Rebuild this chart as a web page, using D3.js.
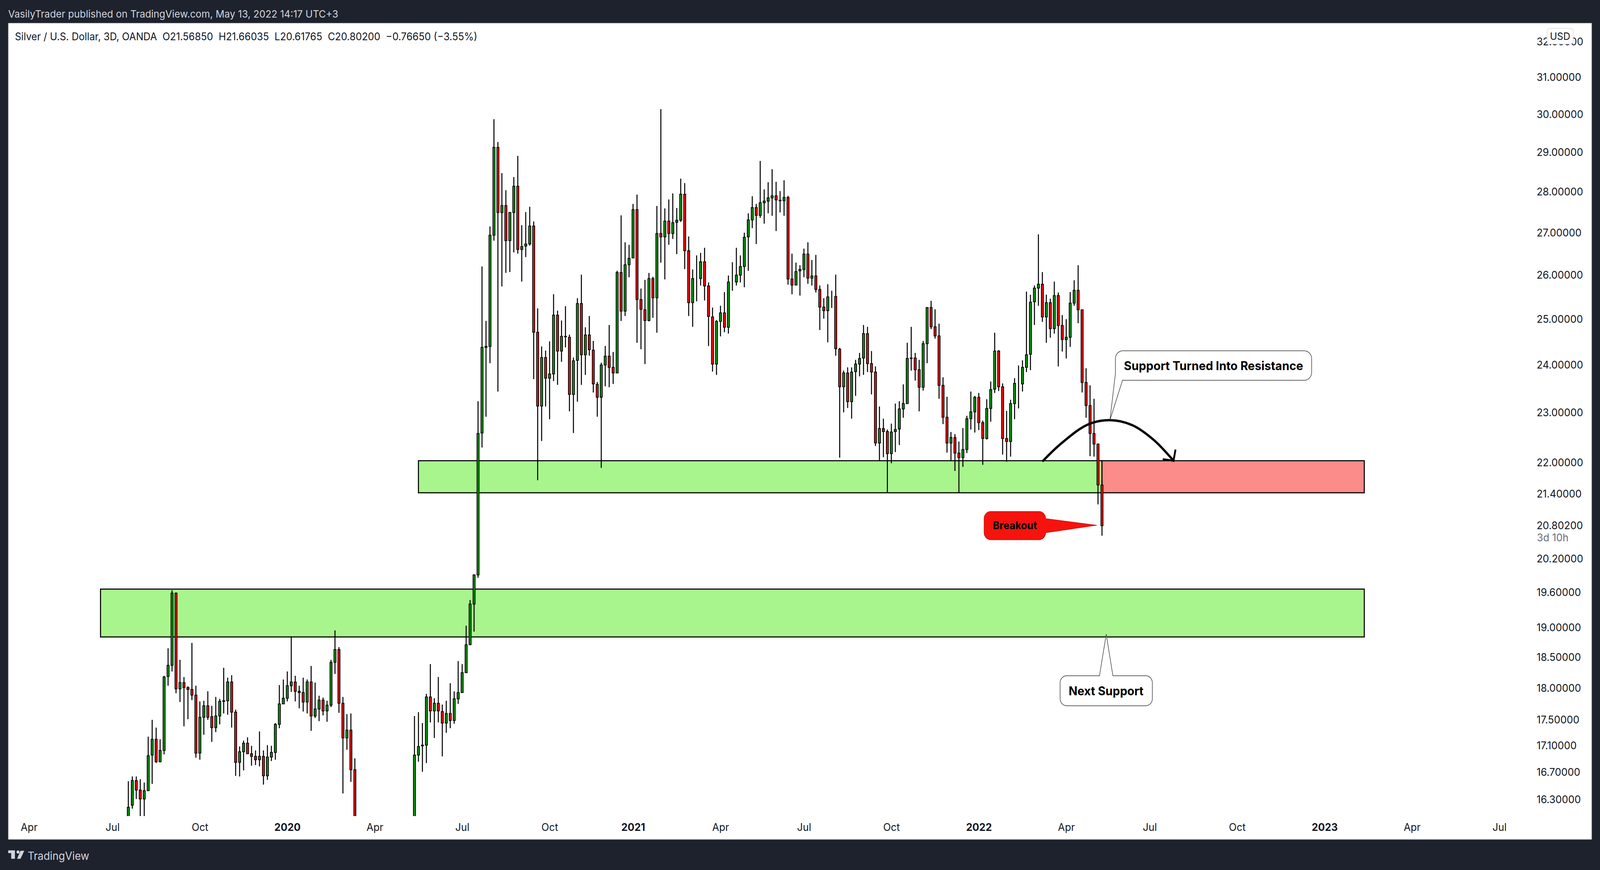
<!DOCTYPE html>
<html>
<head>
<meta charset="utf-8">
<script src="https://cdn.jsdelivr.net/npm/d3@7"></script>
<style>
  html, body { margin: 0; padding: 0; background: #1e222d; overflow: hidden; }
  text { font-family: "Inter", "Noto Sans", sans-serif; }
</style>
</head>
<body>
<div id="my_dataviz"></div>
<script>
// 3D candles, bar 0 is the first one on screen. null = bar is below the visible range
var barOpen = [
  15.90,16.22,16.58,16.44,16.31,16.43,16.96,17.20,16.86,17.03,
  18.19,18.37,19.59,17.99,18.09,18.01,17.98,17.89,16.99,17.54,
  17.72,17.55,17.38,17.56,17.79,17.80,18.10,17.62,16.85,17.01,
  17.14,16.98,16.94,16.89,16.94,16.65,16.93,17.00,17.43,17.75,
  17.84,18.04,18.10,17.95,17.93,17.78,18.10,17.56,17.67,17.81,
  17.64,17.73,18.42,18.63,17.76,17.22,17.34,16.74,null,null,
  null,null,null,null,null,null,null,null,null,null,
  null,null,15.90,16.96,17.10,17.11,17.86,17.64,17.76,17.63,
  17.45,17.60,17.49,17.83,17.93,18.25,18.71,19.40,19.91,22.59,
  24.38,24.40,26.94,29.13,27.49,27.66,26.81,27.49,28.14,26.60,
  26.68,26.73,27.16,24.71,23.14,24.16,23.72,23.81,25.09,24.30,
  24.62,24.60,23.38,24.10,25.35,24.22,24.65,24.32,23.59,23.32,
  24.00,24.19,23.95,23.83,26.06,25.18,26.24,26.40,27.56,25.44,
  25.21,24.97,25.92,25.48,26.98,26.90,27.28,26.98,27.25,27.30,
  27.94,26.57,25.37,25.92,25.92,26.31,25.75,25.05,24.02,24.95,
  25.14,24.82,25.84,25.84,26.00,26.20,26.90,27.31,27.61,27.42,
  27.73,27.77,27.85,27.90,27.79,27.78,27.86,25.91,25.77,26.10,
  26.13,26.49,25.93,25.98,25.67,25.27,25.19,25.51,25.51,24.34,
  23.54,23.83,23.23,23.86,24.02,24.15,24.68,24.03,23.85,22.39,
  22.68,22.62,22.18,22.62,22.67,23.08,23.19,24.14,24.15,23.90,
  23.53,24.46,25.26,24.83,24.63,23.57,22.91,22.39,22.50,22.19,
  22.10,22.26,22.88,23.02,23.32,22.80,22.48,23.09,23.49,24.30,
  23.54,22.48,22.42,23.19,23.60,23.60,23.95,24.23,25.39,25.70,
  25.79,25.05,25.37,24.79,25.53,24.86,24.55,24.60,25.36,25.65,
  25.21,23.63,23.15,22.58,22.37,21.5685
];
var barHigh = [
  16.57,16.64,16.64,16.60,16.55,17.24,17.50,17.38,17.20,18.20,
  18.65,19.64,19.60,18.46,18.18,18.03,18.74,18.04,17.79,17.80,
  17.95,17.72,17.86,17.83,18.33,18.17,18.21,17.66,17.09,17.18,
  17.23,17.10,17.03,17.32,17.03,17.11,17.10,17.45,18.05,18.14,
  18.27,18.85,18.20,18.04,18.17,18.14,18.36,18.09,17.88,17.85,
  17.80,18.46,18.95,18.67,17.86,17.59,17.60,16.91,null,null,
  null,null,null,null,null,null,null,null,null,null,
  null,null,17.56,17.62,17.45,17.91,18.39,17.84,18.18,17.74,
  17.80,18.08,17.95,18.44,18.39,19.03,19.47,19.92,23.24,26.20,
  24.96,27.15,29.87,29.27,28.47,28.04,27.50,28.37,28.91,27.18,
  27.50,27.63,27.27,25.24,24.40,24.31,24.51,25.56,25.19,24.97,
  25.29,24.66,24.16,25.47,26.01,24.82,25.07,24.52,23.64,24.05,
  24.41,24.87,24.28,26.10,27.42,26.77,26.71,27.70,27.93,25.69,
  25.89,26.05,25.96,27.65,30.14,27.59,27.81,27.96,27.60,28.33,
  28.22,26.91,26.13,26.46,26.52,26.64,25.83,25.26,24.98,25.30,
  25.61,25.99,26.30,26.64,26.46,27.00,27.47,27.89,27.70,28.78,
  28.06,28.24,28.57,28.25,28.02,28.29,27.90,26.50,26.29,26.23,
  26.62,26.77,26.35,26.47,25.76,25.47,25.79,25.64,26.01,24.37,
  23.88,23.95,23.95,24.11,24.26,24.87,24.83,24.30,23.97,23.13,
  22.88,22.66,22.78,23.19,23.24,23.59,24.48,24.83,24.26,24.11,
  24.52,25.27,25.41,25.22,24.90,23.74,23.33,22.61,22.57,22.42,
  22.69,22.94,23.44,23.35,23.41,22.84,23.28,23.65,24.70,24.32,
  23.61,23.04,23.27,23.72,23.99,24.10,25.62,25.55,25.76,26.96,
  26.07,25.55,25.46,25.85,25.60,25.09,25.00,25.61,25.88,26.23,
  25.21,23.93,23.57,23.29,22.38,21.66035
];
var barLow = [
  15.85,16.17,16.31,16.00,16.00,16.43,16.53,16.84,16.85,16.97,
  18.04,18.27,17.92,17.78,17.40,17.51,17.81,16.92,16.89,17.27,
  17.50,17.16,17.31,17.43,17.60,17.58,17.38,16.65,16.64,16.73,
  16.98,16.80,16.81,16.79,16.52,16.59,16.87,16.89,17.37,17.75,
  17.79,17.94,17.79,17.68,17.63,17.60,17.33,17.53,17.48,17.57,
  17.47,17.70,18.23,17.61,16.39,17.04,16.56,15.80,null,null,
  null,null,null,null,null,null,null,null,null,null,
  null,null,15.80,16.86,16.71,16.84,17.46,17.22,17.46,16.94,
  17.30,17.37,17.44,17.75,17.93,18.25,18.71,18.93,19.86,22.30,
  22.92,24.04,26.81,23.44,25.74,26.05,26.07,26.53,26.50,25.85,
  26.42,26.69,23.70,21.66,22.43,23.13,22.87,23.66,23.58,24.07,
  24.38,23.03,22.59,23.23,23.58,23.79,24.20,23.42,22.92,21.90,
  23.55,23.53,23.60,23.83,24.96,25.07,25.95,26.40,24.48,24.34,
  24.02,24.95,25.03,24.70,26.29,25.90,26.71,26.85,26.49,27.26,
  26.14,25.07,24.83,25.40,25.76,25.42,24.41,23.86,23.79,24.62,
  24.71,24.68,25.64,25.76,25.83,25.72,26.10,27.11,26.73,27.36,
  27.22,27.47,27.41,27.04,27.49,27.41,25.78,25.56,25.77,25.53,
  25.95,25.80,25.76,25.60,24.76,25.01,24.49,25.25,24.20,22.10,
  23.01,23.10,22.88,23.35,23.76,23.79,23.85,23.38,22.33,22.04,
  22.11,21.42,21.99,22.21,22.35,22.90,23.19,23.88,23.67,23.03,
  23.46,24.04,24.78,24.57,23.29,22.77,22.20,22.05,21.84,21.42,
  21.92,22.19,22.66,22.60,22.65,21.96,22.46,22.82,23.41,23.45,
  22.16,22.02,22.12,22.87,23.09,23.44,23.85,23.89,24.87,25.30,
  24.94,24.48,24.59,24.68,23.97,24.29,24.14,24.39,25.30,24.91,
  23.42,22.90,22.13,22.12,21.20,20.61765
];
var barClose = [
  16.19,16.58,16.44,16.31,16.43,16.95,17.20,16.86,17.03,18.18,
  18.37,19.59,17.99,18.09,18.01,17.98,17.89,16.99,17.54,17.72,
  17.54,17.38,17.56,17.79,17.80,18.10,17.62,16.85,17.01,17.14,
  16.98,16.94,16.89,16.94,16.65,16.93,17.00,17.43,17.75,17.84,
  18.04,18.10,17.95,17.93,17.78,18.10,17.56,17.67,17.81,17.64,
  17.73,18.42,18.63,17.76,17.22,17.34,16.74,15.90,null,null,
  null,null,null,null,null,null,null,null,null,null,
  null,null,16.96,17.09,17.11,17.86,17.64,17.76,17.64,17.45,
  17.60,17.49,17.83,17.93,18.25,18.71,19.40,19.91,22.58,24.38,
  24.40,26.94,29.13,27.49,27.66,26.81,27.49,28.14,26.60,26.67,
  26.73,27.16,24.71,23.14,24.16,23.72,23.81,25.09,24.30,24.62,
  24.61,23.38,24.09,25.35,24.22,24.65,24.33,23.60,23.32,24.00,
  24.19,23.95,23.83,26.06,25.18,26.24,26.39,27.56,25.44,25.22,
  24.97,25.92,25.48,26.98,26.90,27.28,26.98,27.24,27.30,27.94,
  26.57,25.37,25.92,25.92,26.31,25.75,25.06,24.02,24.95,25.14,
  24.82,25.84,25.84,26.00,26.20,26.89,27.31,27.61,27.42,27.73,
  27.77,27.85,27.90,27.80,27.78,27.86,25.91,25.77,26.08,26.13,
  26.49,25.93,25.98,25.67,25.27,25.19,25.50,25.51,24.35,23.54,
  23.83,23.23,23.85,24.02,24.14,24.68,24.03,23.85,22.39,22.68,
  22.62,22.18,22.61,22.66,23.08,23.19,24.14,24.15,23.90,23.53,
  24.46,25.26,24.83,24.63,23.57,22.91,22.39,22.50,22.19,22.10,
  22.26,22.88,23.02,23.32,22.80,22.48,23.09,23.48,24.30,23.54,
  22.48,22.42,23.19,23.61,23.60,23.95,24.22,25.38,25.70,25.79,
  25.05,25.37,24.79,25.53,24.86,24.55,24.60,25.36,25.65,25.21,
  23.63,23.15,22.58,22.37,21.57,20.80200
];

var priceTicks = [32, 31, 30, 29, 28, 27, 26, 25, 24, 23, 22, 21.4, 20.802, 20.2, 19.6, 19, 18.5, 18, 17.5, 17.1, 16.7, 16.3];
var timeTickBars = [-25, -4, 18, 40, 62, 84, 106, 127, 149, 170, 192, 214, 236, 257, 279, 301, 323, 345];
var timeTickLabels = ["Apr", "Jul", "Oct", "2020", "Apr", "Jul", "Oct", "2021", "Apr", "Jul", "Oct", "2022", "Apr", "Jul", "Oct", "2023", "Apr", "Jul"];

// zones: [first bar, last bar, upper price, lower price]
var upperZone = [73, 245, 22.04, 21.42];
var flippedZone = [245, 311, 22.04, 21.42];
var lowerZone = [-7, 311, 19.66, 18.84];

// hand drawn arc + arrow head, [bar, price]
var arcBars = [230.2, 234.8, 241.4, 247.0, 252.6, 257.9, 263];
var arcPrices = [22.04, 22.385, 22.76, 22.85, 22.75, 22.46, 22.04];
var arrowHead = [[263.5, 22.26], [263, 22.04], [260.3, 22.07]];

var width = 4289, height = 2226;
var panel = {left: 22, top: 59, right: 4267, bottom: 2148};
var paneBottom = 2088, paneRight = 4060;

// the window can be narrower than the chart, so stretch the drawing to fill it
var svg = d3.select("#my_dataviz")
  .append("svg")
  .attr("viewBox", "0 0 " + width + " " + height)
  .attr("preserveAspectRatio", "none")
  .style("width", "100vw")
  .style("height", "100vh")
  .style("display", "block");

svg.append("rect").attr("width", width).attr("height", height).attr("fill", "#1e222d");
svg.append("rect")
  .attr("x", panel.left).attr("y", panel.top)
  .attr("width", panel.right - panel.left).attr("height", panel.bottom - panel.top)
  .attr("fill", "#fff").attr("stroke", "#787b86").attr("stroke-width", 1);

// bar index -> pixel, price axis is logarithmic
var x = d3.scaleLinear().domain([0, 245]).range([344, 2954]);
var y = d3.scaleLog().domain([32, 16.3]).range([107, 2046]);

svg.append("clipPath").attr("id", "pane")
  .append("rect")
  .attr("x", panel.left).attr("y", panel.top)
  .attr("width", paneRight - panel.left).attr("height", paneBottom - panel.top);

var pane = svg.append("g").attr("clip-path", "url(#pane)");

// zones
function drawZone(z, fill) {
  pane.append("rect")
    .attr("x", x(z[0])).attr("y", y(z[2]))
    .attr("width", x(z[1]) - x(z[0])).attr("height", y(z[3]) - y(z[2]))
    .attr("fill", fill).attr("stroke", "#000").attr("stroke-width", 2.8);
}
drawZone(upperZone, "#a9f58d");
drawZone(flippedZone, "#fb8c89");
drawZone(lowerZone, "#a9f58d");

// candles
var bars = barOpen.map(function(o, i) {
  return {i: i, open: o, high: barHigh[i], low: barLow[i], close: barClose[i]};
}).filter(function(d) { return d.open !== null; });

pane.selectAll("line.wick")
  .data(bars)
  .enter()
  .append("line")
  .attr("class", "wick")
  .attr("x1", function(d) { return x(d.i); })
  .attr("x2", function(d) { return x(d.i); })
  .attr("y1", function(d) { return y(d.high); })
  .attr("y2", function(d) { return y(d.low); })
  .attr("stroke", "#000")
  .attr("stroke-width", 2.7);

var bodyWidth = 5.6;
pane.selectAll("rect.body")
  .data(bars)
  .enter()
  .append("rect")
  .attr("class", "body")
  .attr("x", function(d) { return x(d.i) - bodyWidth / 2; })
  .attr("y", function(d) { return y(Math.max(d.open, d.close)); })
  .attr("width", bodyWidth)
  .attr("height", function(d) { return Math.abs(y(d.open) - y(d.close)); })
  .attr("fill", function(d) { return d.close >= d.open ? "#099a10" : "#f6120c"; })
  .attr("stroke", "#000")
  .attr("stroke-width", 2);

// arc
var arcLine = d3.line().curve(d3.curveCatmullRom)
  .x(function(d) { return x(d[0]); })
  .y(function(d) { return y(d[1]); });
pane.append("path")
  .attr("d", arcLine(arcBars.map(function(b, i) { return [b, arcPrices[i]]; })))
  .attr("fill", "none").attr("stroke", "#000").attr("stroke-width", 6).attr("stroke-linecap", "round");
pane.append("path")
  .attr("d", d3.line().x(function(d) { return x(d[0]); }).y(function(d) { return y(d[1]); })(arrowHead))
  .attr("fill", "none").attr("stroke", "#000").attr("stroke-width", 5);

// callouts
function callout(x0, y0, x1, y1, r, side, tail, tip, fill, stroke) {
  var p = d3.path();
  var tx = x(tip[0]), ty = y(tip[1]);
  p.moveTo(x0 + r, y0);
  if (side == "top") {
    p.lineTo(tail[0], y0); p.lineTo(tx, ty); p.lineTo(tail[1], y0);
  }
  p.arcTo(x1, y0, x1, y0 + r, r);
  if (side == "right") {
    p.lineTo(x1, tail[0]); p.lineTo(tx, ty); p.lineTo(x1, tail[1]);
  }
  p.arcTo(x1, y1, x1 - r, y1, r);
  if (side == "leftbottom") {
    p.lineTo(tail[0], y1); p.lineTo(tx, ty); p.lineTo(x0, tail[1]);
  } else {
    p.arcTo(x0, y1, x0, y1 - r, r);
  }
  p.arcTo(x0, y0, x0 + r, y0, r);
  p.closePath();
  pane.append("path").attr("d", p.toString())
    .attr("fill", fill).attr("stroke", stroke).attr("stroke-width", 1.4);
}
function calloutText(txt, cx, cy, size) {
  pane.append("text")
    .attr("x", cx).attr("y", cy)
    .attr("text-anchor", "middle").attr("dominant-baseline", "central")
    .attr("font-size", size).attr("font-weight", 700).attr("fill", "#000")
    .text(txt);
}
callout(2990, 897.5, 3516, 973, 20, "leftbottom", [3009, 956], [247.0, 22.85], "#fff", "#333");
calloutText("Support Turned Into Resistance", 3253, 935.5, 31.2);
callout(2841.7, 1729, 3089, 1805.7, 18, "top", [2947.3, 2983.3], [246.07, 18.885], "#fff", "#333");
calloutText("Next Support", 2965, 1767.5, 31);
callout(2638, 1308.6, 2803, 1381, 18, "right", [1327, 1363], [243.7, 20.81], "#f6130d", "#c8100a");
calloutText("Breakout", 2721, 1344, 27);

// axes
var yAxis = d3.axisRight(y)
  .tickValues(priceTicks)
  .tickSize(0)
  .tickPadding(0)
  .tickFormat(function(d) { return d.toFixed(5); });
svg.append("g")
  .attr("transform", "translate(4119,0)")
  .call(yAxis)
  .call(function(g) { g.select(".domain").remove(); })
  .selectAll("text")
  .attr("font-size", 27)
  .attr("font-family", "Inter")
  .attr("fill", "#131722");

var xAxis = d3.axisBottom(x)
  .tickValues(timeTickBars)
  .tickSize(0)
  .tickPadding(19)
  .tickFormat(function(d, i) { return timeTickLabels[i]; });
svg.append("g")
  .attr("transform", "translate(0," + paneBottom + ")")
  .call(xAxis)
  .call(function(g) { g.select(".domain").remove(); })
  .selectAll("text")
  .attr("font-size", 27)
  .attr("font-family", "Inter")
  .attr("font-weight", function(d, i) { return /^\d/.test(timeTickLabels[i]) ? 700 : 400; })
  .attr("fill", "#131722");

// countdown under last price
svg.append("text").attr("x", 4120).attr("y", 1385)
  .attr("font-size", 27).attr("fill", "#6a6d78").text("3d 10h");

// currency button
svg.append("rect").attr("x", 4147).attr("y", 72.5).attr("width", 70).attr("height", 40).attr("rx", 8)
  .attr("fill", "#fff").attr("stroke", "#d6d8e0").attr("stroke-width", 1.5);
svg.append("text").attr("x", 4182).attr("y", 92.5)
  .attr("text-anchor", "middle").attr("dominant-baseline", "central")
  .attr("font-size", 26).attr("fill", "#131722").text("USD");

// texts
svg.append("text").attr("x", 22).attr("y", 45)
  .attr("font-size", 26.2).attr("fill", "#d1d4dc")
  .text("VasilyTrader published on TradingView.com, May 13, 2022 14:17 UTC+3");
svg.append("text").attr("x", 40).attr("y", 103)
  .attr("font-size", 26.4).attr("fill", "#131722")
  .style("white-space", "pre")
  .text("Silver / U.S. Dollar, 3D, OANDA  O21.56850  H21.66035  L20.61765  C20.80200  \u22120.76650 (\u22123.55%)");

// footer logo
var logo = svg.append("g").attr("fill", "#d1d4dc").attr("transform", "translate(0,2130)");
logo.append("path").attr("d", "M22 45.7H40V67.3H30V52.7H22Z");
logo.append("circle").attr("cx", 48.3).attr("cy", 50).attr("r", 4);
logo.append("path").attr("d", "M55 46.7H65L55 67.3H45.7Z");
svg.append("text").attr("x", 74).attr("y", 2200)
  .attr("font-size", 28).attr("fill", "#d1d4dc").text("TradingView");
</script>
</body>
</html>
